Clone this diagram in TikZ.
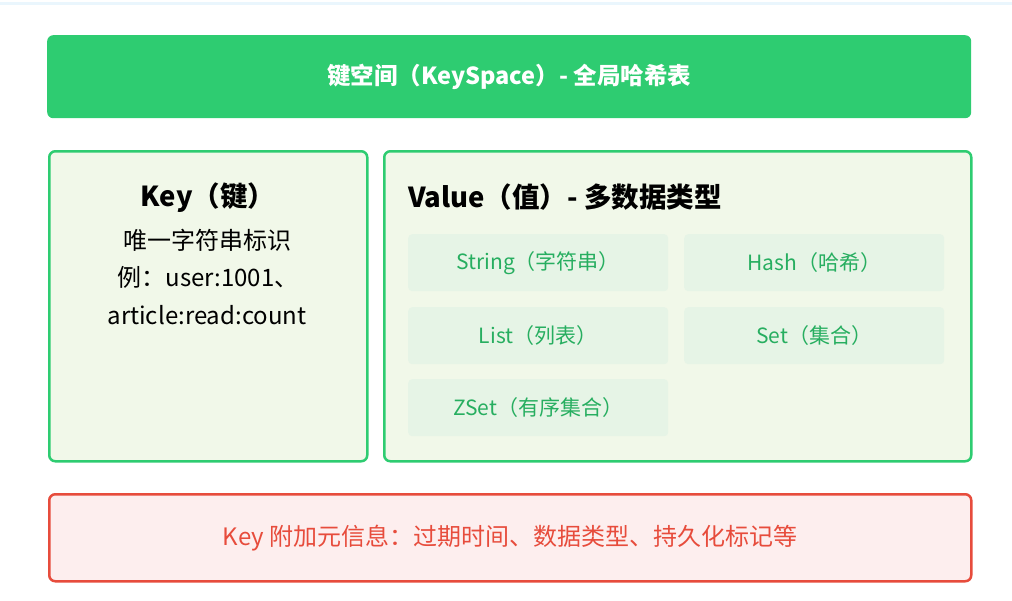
\documentclass[tikz,border=0pt]{standalone}
\usepackage{fontspec}
\setmainfont{Noto Sans CJK SC}
\definecolor{hdrgreen}{HTML}{2ECC71}
\definecolor{boxfill}{HTML}{F1F8E9}
\definecolor{subfill}{HTML}{E6F4E6}
\definecolor{subtext}{HTML}{27AE60}
\definecolor{redline}{HTML}{E74C3C}
\definecolor{redfill}{HTML}{FDEEEE}
\definecolor{topline}{HTML}{EAF6FD}
\tikzset{
  header/.style={fill=hdrgreen, draw=none, rounded corners=6pt, anchor=north west, inner sep=0pt,
    text=white, font=\fontsize{23.5}{28}\selectfont\bfseries},
  panel/.style={fill=boxfill, draw=hdrgreen, line width=2.5pt, rounded corners=6pt, anchor=north west, inner sep=0pt},
  subbox/.style={fill=subfill, draw=none, rounded corners=4pt, anchor=north west, inner sep=0pt,
    minimum width=260pt, minimum height=57pt, text=subtext, font=\fontsize{21}{25}\selectfont},
  note/.style={fill=redfill, draw=redline, line width=2.5pt, rounded corners=6pt, anchor=north west, inner sep=0pt,
    text=redline, font=\fontsize{24}{28}\selectfont},
  titletext/.style={font=\fontsize{27.5}{32}\selectfont\bfseries, inner sep=0pt},
  bodytext/.style={font=\fontsize{24}{28}\selectfont, inner sep=0pt},
}
\begin{document}
\begin{tikzpicture}[x=1pt,y=-1pt]
\useasboundingbox (0,0) rectangle (1012,600);
\fill[topline] (0,2) rectangle (1012,5);
\node[header, minimum width=924pt, minimum height=83pt] (hdr) at (47,35) {键空间（KeySpace）- 全局哈希表};
\node[panel, minimum width=318pt, minimum height=310pt] (key) at (48,150) {};
\node[titletext] (keytitle) at (208,198) {Key（键）};
\node[bodytext] (keyl1) at (207,240) {唯一字符串标识};
\node[bodytext] (keyl2) at (208,277) {例：user:1001、};
\node[bodytext] (keyl3) at (207,315) {article:read:count};
\node[panel, minimum width=587pt, minimum height=310pt] (val) at (383,150) {};
\node[titletext, anchor=west] (valtitle) at (408,197) {Value（值）- 多数据类型};
\node[subbox] (s1) at (408,234) {String（字符串）};
\node[subbox] (s2) at (684,234) {Hash（哈希）};
\node[subbox] (s3) at (408,307) {List（列表）};
\node[subbox] (s4) at (684,307) {Set（集合）};
\node[subbox] (s5) at (408,379) {ZSet（有序集合）};
\node[note, minimum width=922pt, minimum height=87pt] (meta) at (48,493) {Key 附加元信息：过期时间、数据类型、持久化标记等};
\end{tikzpicture}
\end{document}
